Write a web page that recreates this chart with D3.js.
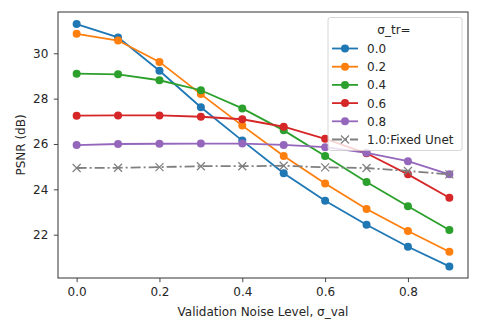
<!DOCTYPE html>
<html><head><meta charset="utf-8">
<script src="https://cdn.jsdelivr.net/npm/d3@7"></script>
<style>body{margin:0;background:#fff}svg{display:block;font-family:"DejaVu Sans",sans-serif}</style>
</head><body><svg id="c" width="480" height="329"></svg>
<script>
const xValues = [0.0, 0.1, 0.2, 0.3, 0.4, 0.5, 0.6, 0.7, 0.8, 0.9];
const seriesNames = ["0.0", "0.2", "0.4", "0.6", "0.8", "1.0:Fixed Unet"];
const s00 = [31.29, 30.70, 29.23, 27.62, 26.15, 24.71, 23.50, 22.44, 21.47, 20.60];
const s02 = [30.86, 30.56, 29.62, 28.20, 26.81, 25.47, 24.26, 23.13, 22.16, 21.25];
const s04 = [29.10, 29.07, 28.81, 28.37, 27.57, 26.60, 25.47, 24.32, 23.25, 22.21];
const s06 = [27.25, 27.26, 27.26, 27.20, 27.09, 26.76, 26.23, 25.59, 24.66, 23.63];
const s08 = [25.95, 26.00, 26.01, 26.02, 26.02, 25.96, 25.86, 25.61, 25.24, 24.66];
const s10 = [24.94, 24.95, 24.98, 25.02, 25.02, 25.04, 24.97, 24.94, 24.81, 24.66];
const xTicks = [0.0, 0.2, 0.4, 0.6, 0.8];
const yTicks = [22, 24, 26, 28, 30];
const legendTitle = "σ_tr=";
const xLabel = "Validation Noise Level, σ_val";
const yLabel = "PSNR (dB)";
const colors = ["#1f77b4", "#ff7f0e", "#2ca02c", "#d62728", "#9467bd", "#7f7f7f"];
const allSeries = [s00, s02, s04, s06, s08, s10];

const FS = 12;
const L = 58, R = 468, T = 12, B = 278;
const svg = d3.select("#c");
const x = d3.scaleLinear().domain([-0.045, 0.945]).range([L, R]);
const y = d3.scaleLinear().domain([20.09, 31.82]).range([B, T]);

// axes
const xa = svg.append("g").attr("transform", `translate(0,${B})`)
  .call(d3.axisBottom(x).tickValues(xTicks).tickFormat(d3.format(".1f")).tickSize(4.2).tickPadding(5.5));
const ya = svg.append("g").attr("transform", `translate(${L},0)`)
  .call(d3.axisLeft(y).tickValues(yTicks).tickFormat(d3.format("d")).tickSize(4.2).tickPadding(5.5));
[xa, ya].forEach(a => {
  a.select(".domain").remove();
  a.selectAll("line").attr("stroke", "#333").attr("stroke-width", 0.9);
  a.selectAll("text").attr("fill", "#262626").attr("font-size", FS).attr("font-family", "DejaVu Sans");
});

const lineGen = d3.line().x((d, i) => x(xValues[i])).y(d => y(d));
const plot = svg.append("g");
allSeries.forEach((s, k) => {
  const g = plot.append("g");
  g.append("path").datum(s).attr("d", lineGen).attr("fill", "none")
    .attr("stroke", colors[k]).attr("stroke-width", 1.8)
    .attr("stroke-dasharray", k === 5 ? "10,3,2,3" : null);
  if (k < 5) {
    g.selectAll("circle").data(s).join("circle")
      .attr("cx", (d, i) => x(xValues[i])).attr("cy", d => y(d)).attr("r", 4)
      .attr("fill", colors[k]);
  } else {
    g.selectAll("path.m").data(s).join("path").attr("class", "m")
      .attr("d", (d, i) => { const cx = x(xValues[i]), cy = y(d), r = 4;
        return `M${cx-r},${cy-r}L${cx+r},${cy+r}M${cx-r},${cy+r}L${cx+r},${cy-r}`; })
      .attr("stroke", colors[k]).attr("stroke-width", 1.2);
  }
});

// frame
svg.append("rect").attr("x", L).attr("y", T).attr("width", R - L).attr("height", B - T)
  .attr("fill", "none").attr("stroke", "#333").attr("stroke-width", 1);

// labels
svg.append("text").attr("x", 263).attr("y", 316).attr("text-anchor", "middle")
  .attr("font-size", FS).attr("fill", "#262626").text(xLabel);
svg.append("text").attr("transform", `translate(24.5,${(T + B) / 2}) rotate(-90)`)
  .attr("text-anchor", "middle").attr("font-size", FS).attr("fill", "#262626").text(yLabel);

// legend
const lg = svg.append("g");
lg.append("rect").attr("x", 328).attr("y", 17.5).attr("width", 134).attr("height", 133)
  .attr("rx", 2.5).attr("fill", "#fff").attr("fill-opacity", 0.8).attr("stroke", "#ccc").attr("stroke-width", 0.8);
lg.append("text").attr("x", 394).attr("y", 33.5).attr("text-anchor", "middle")
  .attr("font-size", FS).attr("fill", "#262626").text(legendTitle);
seriesNames.forEach((n, k) => {
  const yy = 48.5 + k * 18.2;
  lg.append("line").attr("x1", 332).attr("x2", 358).attr("y1", yy).attr("y2", yy)
    .attr("stroke", colors[k]).attr("stroke-width", 1.8)
    .attr("stroke-dasharray", k === 5 ? "10,3,2,3" : null);
  if (k < 5) {
    lg.append("circle").attr("cx", 345).attr("cy", yy).attr("r", 4).attr("fill", colors[k]);
  } else {
    const r = 4;
    lg.append("path").attr("d", `M${345-r},${yy-r}L${345+r},${yy+r}M${345-r},${yy+r}L${345+r},${yy-r}`)
      .attr("stroke", colors[k]).attr("stroke-width", 1.2);
  }
  lg.append("text").attr("x", 367).attr("y", yy + 4.4).attr("font-size", FS).attr("fill", "#262626").text(n);
});
</script></body></html>
